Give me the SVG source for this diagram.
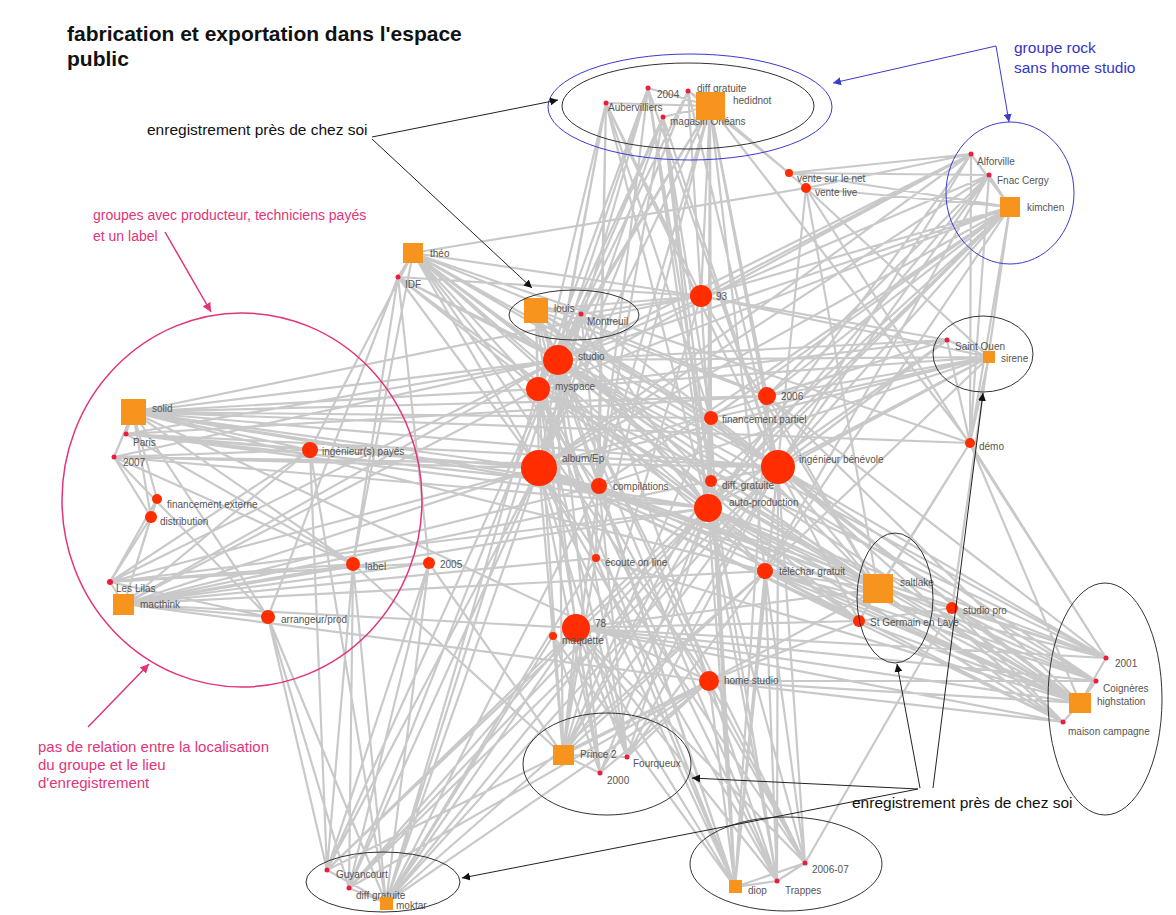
<svg xmlns="http://www.w3.org/2000/svg" width="1176" height="915" viewBox="0 0 1176 915">
<style>
.e{fill:none;stroke:#c9c9c9;stroke-width:2.2;stroke-linecap:round}
.sq{fill:#f7941d}
.n{fill:#ff2d00}
.d{fill:#ee1c3c}
.l{font-family:"Liberation Sans",Arial,sans-serif;font-size:10px;fill:#555}
.a{font-family:"Liberation Sans",Arial,sans-serif;font-size:15.5px;fill:#111}
.p{font-family:"Liberation Sans",Arial,sans-serif;font-size:15px;fill:#e2347a}
.p2{font-family:"Liberation Sans",Arial,sans-serif;font-size:14px;fill:#e2347a}
.b{font-family:"Liberation Sans",Arial,sans-serif;font-size:15.5px;fill:#3434c8}
.t{font-family:"Liberation Sans",Arial,sans-serif;font-size:21px;font-weight:bold;fill:#111}
.ek{fill:none;stroke:#333;stroke-width:1}
.eb{fill:none;stroke:#3a3acc;stroke-width:1}
.ep{fill:none;stroke:#e2347a;stroke-width:1.5}
.ak{fill:none;stroke:#222;stroke-width:1}
.ab{fill:none;stroke:#3a3acc;stroke-width:1}
.ap{fill:none;stroke:#e2347a;stroke-width:1.5}
</style>
<defs>
<marker id="mk" viewBox="0 0 10 10" refX="10" refY="5" markerWidth="8" markerHeight="8" orient="auto" markerUnits="userSpaceOnUse"><path d="M0,0L10,5L0,10z" fill="#111"/></marker>
<marker id="mb" viewBox="0 0 10 10" refX="10" refY="5" markerWidth="8" markerHeight="8" orient="auto" markerUnits="userSpaceOnUse"><path d="M0,0L10,5L0,10z" fill="#3a3acc"/></marker>
<marker id="mp" viewBox="0 0 10 10" refX="10" refY="5" markerWidth="9" markerHeight="9" orient="auto" markerUnits="userSpaceOnUse"><path d="M0,0L10,5L0,10z" fill="#e2347a"/></marker>
</defs>
<rect width="1176" height="915" fill="#fff"/>

<g id="connectors">
<path class="e" d="M710 106 558 360M710 106 538 389M710 106 701 296M710 106 539 468M710 106 778 467M710 106 708 508M710 106 599 486M710 106 711 481M710 106 789 173M710 106 806 188M710 106 711 418M710 106 970 443M710 106 596 558M710 106 767 396M710 106 765 571M606 103 558 360M606 103 538 389M606 103 539 468M606 103 778 467M606 103 708 508M606 103 701 296M606 103 599 486M606 103 596 558M606 103 711 418M648 88 558 360M648 88 539 468M648 88 778 467M648 88 708 508M648 88 711 481M648 88 538 389M648 88 599 486M688 91 558 360M688 91 539 468M688 91 789 173M688 91 701 296M688 91 778 467M663 117 558 360M663 117 538 389M663 117 539 468M663 117 778 467M663 117 708 508M663 117 711 418M663 117 599 486M663 117 711 481M710 106 606 103M710 106 648 88M710 106 688 91M710 106 663 117"/>
<path class="e" d="M1010 207 558 360M1010 207 539 468M1010 207 778 467M1010 207 538 389M1010 207 789 173M1010 207 806 188M1010 207 970 443M1010 207 708 508M1010 207 711 418M1010 207 767 396M1010 207 765 571M1010 207 952 608M1010 207 701 296M1010 207 599 486M1010 207 711 481M1010 207 576 628M971 154 558 360M971 154 539 468M971 154 778 467M971 154 789 173M971 154 806 188M971 154 538 389M971 154 701 296M971 154 708 508M971 154 970 443M989 175 558 360M989 175 539 468M989 175 778 467M989 175 708 508M989 175 789 173M989 175 970 443M989 175 767 396M989 175 765 571M1010 207 971 154M1010 207 989 175"/>
<path class="e" d="M413 253 558 360M413 253 539 468M413 253 538 389M413 253 778 467M413 253 701 296M413 253 708 508M413 253 599 486M413 253 709 681M413 253 767 396M413 253 711 418M413 253 711 481M413 253 353 564M413 253 310 450M413 253 806 188M413 253 970 443M413 253 765 571M398 277 558 360M398 277 539 468M398 277 538 389M398 277 778 467M398 277 353 564M398 277 268 617M398 277 701 296M398 277 708 508M398 277 429 563M413 253 398 277"/>
<path class="e" d="M536 310 558 360M536 310 538 389M536 310 539 468M536 310 701 296M536 310 778 467M536 310 708 508M536 310 709 681M536 310 767 396M536 310 711 418M536 310 711 481M536 310 765 571M536 310 599 486M536 310 596 558M536 310 576 628M581 314 558 360M581 314 539 468M581 314 778 467M581 314 708 508M581 314 701 296M581 314 709 681M581 314 538 389M581 314 599 486M536 310 581 314"/>
<path class="e" d="M133 412 310 450M133 412 157 499M133 412 151 517M133 412 353 564M133 412 268 617M133 412 539 468M133 412 558 360M133 412 538 389M133 412 778 467M133 412 708 508M133 412 599 486M133 412 767 396M133 412 711 418M133 412 765 571M133 412 701 296M133 412 970 443M133 412 709 681M126 434 310 450M126 434 539 468M126 434 558 360M126 434 778 467M126 434 353 564M126 434 708 508M126 434 767 396M126 434 599 486M114 457 310 450M114 457 539 468M114 457 151 517M114 457 268 617M114 457 353 564M114 457 778 467M114 457 708 508M114 457 558 360M133 412 126 434M133 412 114 457"/>
<path class="e" d="M124 604 310 450M124 604 157 499M124 604 151 517M124 604 353 564M124 604 268 617M124 604 539 468M124 604 558 360M124 604 538 389M124 604 429 563M124 604 599 486M124 604 708 508M124 604 778 467M124 604 576 628M124 604 596 558M124 604 709 681M124 604 765 571M110 582 310 450M110 582 157 499M110 582 151 517M110 582 353 564M110 582 539 468M110 582 558 360M110 582 268 617M110 582 708 508M110 582 429 563M124 604 110 582"/>
<path class="e" d="M878 589 539 468M878 589 778 467M878 589 708 508M878 589 765 571M878 589 709 681M878 589 576 628M878 589 952 608M878 589 558 360M878 589 538 389M878 589 970 443M878 589 767 396M878 589 711 418M878 589 711 481M878 589 701 296M878 589 599 486M878 589 806 188M859 621 539 468M859 621 778 467M859 621 708 508M859 621 576 628M859 621 709 681M859 621 558 360M859 621 765 571M859 621 538 389M859 621 952 608M859 621 970 443M878 589 859 621"/>
<path class="e" d="M989 357 701 296M989 357 539 468M989 357 778 467M989 357 708 508M989 357 970 443M989 357 558 360M989 357 538 389M989 357 765 571M989 357 806 188M989 357 767 396M989 357 711 418M989 357 599 486M947 340 701 296M947 340 539 468M947 340 778 467M947 340 558 360M947 340 708 508M947 340 538 389M947 340 970 443M947 340 767 396M989 357 947 340"/>
<path class="e" d="M1080 703 539 468M1080 703 778 467M1080 703 708 508M1080 703 709 681M1080 703 576 628M1080 703 765 571M1080 703 952 608M1080 703 558 360M1080 703 538 389M1080 703 711 481M1080 703 711 418M1080 703 767 396M1080 703 596 558M1080 703 599 486M1080 703 859 621M1080 703 970 443M1106 658 539 468M1106 658 778 467M1106 658 708 508M1106 658 558 360M1106 658 576 628M1106 658 765 571M1106 658 538 389M1106 658 767 396M1106 658 970 443M1106 658 806 188M1106 658 952 608M1096 681 539 468M1096 681 778 467M1096 681 708 508M1096 681 709 681M1096 681 576 628M1096 681 952 608M1096 681 558 360M1096 681 765 571M1063 722 539 468M1063 722 778 467M1063 722 708 508M1063 722 709 681M1063 722 576 628M1063 722 765 571M1063 722 952 608M1063 722 558 360M1080 703 1106 658M1080 703 1096 681M1080 703 1063 722"/>
<path class="e" d="M563 755 576 628M563 755 539 468M563 755 708 508M563 755 709 681M563 755 778 467M563 755 558 360M563 755 538 389M563 755 765 571M563 755 599 486M563 755 553 636M563 755 596 558M563 755 353 564M563 755 429 563M563 755 711 481M563 755 711 418M563 755 701 296M627 757 576 628M627 757 539 468M627 757 708 508M627 757 709 681M627 757 778 467M627 757 558 360M627 757 765 571M627 757 538 389M627 757 599 486M600 773 576 628M600 773 539 468M600 773 708 508M600 773 778 467M600 773 558 360M600 773 553 636M600 773 709 681M600 773 538 389M563 755 627 757M563 755 600 773"/>
<path class="e" d="M735 887 576 628M735 887 539 468M735 887 708 508M735 887 709 681M735 887 778 467M735 887 558 360M735 887 538 389M735 887 765 571M735 887 711 481M735 887 711 418M735 887 767 396M735 887 599 486M735 887 553 636M735 887 806 188M735 887 701 296M735 887 596 558M805 863 576 628M805 863 539 468M805 863 708 508M805 863 709 681M805 863 778 467M805 863 558 360M805 863 765 571M805 863 952 608M805 863 538 389M777 881 576 628M777 881 539 468M777 881 708 508M777 881 709 681M777 881 778 467M777 881 538 389M777 881 765 571M777 881 558 360M777 881 711 481M735 887 805 863M735 887 777 881M777 881 805 863"/>
<path class="e" d="M386 903 576 628M386 903 539 468M386 903 708 508M386 903 709 681M386 903 778 467M386 903 558 360M386 903 538 389M386 903 353 564M386 903 268 617M386 903 310 450M386 903 429 563M386 903 553 636M386 903 596 558M386 903 599 486M386 903 765 571M327 870 576 628M327 870 539 468M327 870 268 617M327 870 353 564M327 870 310 450M327 870 558 360M327 870 708 508M327 870 709 681M327 870 429 563M349 888 539 468M349 888 708 508M349 888 576 628M349 888 709 681M349 888 778 467M349 888 353 564M349 888 429 563M349 888 558 360M349 888 268 617M386 903 327 870M386 903 349 888"/>
</g>

<g id="n-studio"><circle class="n" cx="558" cy="360" r="15"/><text class="l" x="578" y="360">studio</text></g>
<g id="n-myspace"><circle class="n" cx="538" cy="389" r="12"/><text class="l" x="555" y="390">myspace</text></g>
<g id="n-93"><circle class="n" cx="701" cy="296" r="11"/><text class="l" x="716" y="300">93</text></g>
<g id="n-2006"><circle class="n" cx="767" cy="396" r="9"/><text class="l" x="781" y="400">2006</text></g>
<g id="n-financement-partiel"><circle class="n" cx="711" cy="418" r="7"/><text class="l" x="722" y="423">financement partiel</text></g>
<g id="n-ingenieur-benevole"><circle class="n" cx="778" cy="467" r="17"/><text class="l" x="799" y="463">ingénieur bénévole</text></g>
<g id="n-demo"><circle class="n" cx="970" cy="443" r="5"/><text class="l" x="979" y="450">démo</text></g>
<g id="n-album"><circle class="n" cx="539" cy="468" r="18"/><text class="l" x="562" y="462">album/Ep</text></g>
<g id="n-compilations"><circle class="n" cx="599" cy="486" r="8"/><text class="l" x="613" y="490">compilations</text></g>
<g id="n-diff-gratuite-c"><circle class="n" cx="711" cy="481" r="6"/><text class="l" x="722" y="489">diff. gratuite</text></g>
<g id="n-auto-production"><circle class="n" cx="708" cy="508" r="14"/><text class="l" x="729" y="506">auto-production</text></g>
<g id="n-ecoute"><circle class="n" cx="596" cy="558" r="4"/><text class="l" x="605" y="566">écoute on line</text></g>
<g id="n-telechar"><circle class="n" cx="765" cy="571" r="8"/><text class="l" x="779" y="575">téléchar gratuit</text></g>
<g id="n-ingenieurs-payes"><circle class="n" cx="310" cy="450" r="8"/><text class="l" x="322" y="455">ingénieur(s) payés</text></g>
<g id="n-financement-externe"><circle class="n" cx="157" cy="499" r="5"/><text class="l" x="167" y="508">financement externe</text></g>
<g id="n-distribution"><circle class="n" cx="151" cy="517" r="6"/><text class="l" x="160" y="525">distribution</text></g>
<g id="n-label"><circle class="n" cx="353" cy="564" r="7"/><text class="l" x="365" y="570">label</text></g>
<g id="n-arrangeur"><circle class="n" cx="268" cy="617" r="7"/><text class="l" x="281" y="623">arrangeur/prod</text></g>
<g id="n-2005"><circle class="n" cx="429" cy="563" r="6"/><text class="l" x="440" y="568">2005</text></g>
<g id="n-78"><circle class="n" cx="576" cy="628" r="14"/><text class="l" x="595" y="627">78</text></g>
<g id="n-maquette"><circle class="n" cx="553" cy="636" r="4"/><text class="l" x="562" y="644">maquette</text></g>
<g id="n-home-studio"><circle class="n" cx="709" cy="681" r="10"/><text class="l" x="724" y="684">home studio</text></g>
<g id="n-studio-pro"><circle class="n" cx="952" cy="608" r="6"/><text class="l" x="963" y="614">studio pro</text></g>
<g id="n-st-germain"><circle class="n" cx="859" cy="621" r="6"/><text class="l" x="870" y="626">St Germain en Laye</text></g>
<g id="n-vente-net"><circle class="n" cx="789" cy="173" r="4"/><text class="l" x="797" y="182">vente sur le net</text></g>
<g id="n-vente-live"><circle class="n" cx="806" cy="188" r="5"/><text class="l" x="815" y="196">vente live</text></g>

<g id="n-aubervilliers"><circle class="d" cx="606" cy="103" r="2.5"/><text class="l" x="608" y="111">Aubervilliers</text></g>
<g id="n-2004"><circle class="d" cx="648" cy="88" r="2.5"/><text class="l" x="657" y="98">2004</text></g>
<g id="n-diff-gratuite-h"><circle class="d" cx="688" cy="91" r="2.5"/><text class="l" x="697" y="92">diff gratuite</text></g>
<g id="n-magasin"><circle class="d" cx="663" cy="117" r="2.5"/><text class="l" x="670" y="125">magasin Orléans</text></g>
<g id="n-alforville"><circle class="d" cx="971" cy="154" r="2.5"/><text class="l" x="977" y="165">Alforville</text></g>
<g id="n-fnac"><circle class="d" cx="989" cy="175" r="2.5"/><text class="l" x="997" y="184">Fnac Cergy</text></g>
<g id="n-idf"><circle class="d" cx="398" cy="277" r="2.5"/><text class="l" x="405" y="288">IDF</text></g>
<g id="n-montreuil"><circle class="d" cx="581" cy="314" r="2.5"/><text class="l" x="587" y="325">Montreuil</text></g>
<g id="n-saint-ouen"><circle class="d" cx="947" cy="340" r="2.5"/><text class="l" x="955" y="350">Saint Ouen</text></g>
<g id="n-paris"><circle class="d" cx="126" cy="434" r="2.5"/><text class="l" x="133" y="446">Paris</text></g>
<g id="n-2007"><circle class="d" cx="114" cy="457" r="2.5"/><text class="l" x="123" y="466">2007</text></g>
<g id="n-les-lilas"><circle class="d" cx="110" cy="582" r="3"/><text class="l" x="116" y="592">Les Lilas</text></g>
<g id="n-2001"><circle class="d" cx="1106" cy="658" r="2.5"/><text class="l" x="1115" y="667">2001</text></g>
<g id="n-coigneres"><circle class="d" cx="1096" cy="681" r="2.5"/><text class="l" x="1103" y="692">Coignères</text></g>
<g id="n-maison"><circle class="d" cx="1063" cy="722" r="2.5"/><text class="l" x="1068" y="735">maison campagne</text></g>
<g id="n-fourqueux"><circle class="d" cx="627" cy="757" r="2.5"/><text class="l" x="633" y="767">Fourqueux</text></g>
<g id="n-2000"><circle class="d" cx="600" cy="773" r="2.5"/><text class="l" x="607" y="784">2000</text></g>
<g id="n-guyancourt"><circle class="d" cx="327" cy="870" r="2.5"/><text class="l" x="336" y="878">Guyancourt</text></g>
<g id="n-diff-gratuite-m"><circle class="d" cx="349" cy="888" r="2.5"/><text class="l" x="356" y="899">diff gratuite</text></g>
<g id="n-2006-07"><circle class="d" cx="805" cy="863" r="2.5"/><text class="l" x="812" y="873">2006-07</text></g>
<g id="n-trappes"><circle class="d" cx="777" cy="881" r="2.5"/><text class="l" x="785" y="894">Trappes</text></g>

<g id="g-hedidnot"><rect class="sq" x="696" y="92" width="29" height="28"/><text class="l" x="733" y="104">hedidnot</text></g>
<g id="g-kimchen"><rect class="sq" x="1000" y="197" width="20" height="20"/><text class="l" x="1027" y="211">kimchen</text></g>
<g id="g-theo"><rect class="sq" x="403" y="243" width="20" height="20"/><text class="l" x="430" y="257">théo</text></g>
<g id="g-louis"><rect class="sq" x="524" y="298" width="24" height="25"/><text class="l" x="554" y="312">louis</text></g>
<g id="g-solid"><rect class="sq" x="121" y="399" width="25" height="26"/><text class="l" x="152" y="412">solid</text></g>
<g id="g-macthink"><rect class="sq" x="113" y="594" width="21" height="21"/><text class="l" x="140" y="608">macthink</text></g>
<g id="g-saltlake"><rect class="sq" x="863" y="574" width="30" height="29"/><text class="l" x="900" y="586">saltlake</text></g>
<g id="g-sirene"><rect class="sq" x="983" y="351" width="12" height="12"/><text class="l" x="1001" y="362">sirene</text></g>
<g id="g-highstation"><rect class="sq" x="1069" y="693" width="22" height="20"/><text class="l" x="1097" y="705">highstation</text></g>
<g id="g-prince2"><rect class="sq" x="553" y="745" width="21" height="20"/><text class="l" x="580" y="758">Prince 2</text></g>
<g id="g-diop"><rect class="sq" x="729" y="880" width="13" height="13"/><text class="l" x="748" y="894">diop</text></g>
<g id="g-moktar"><rect class="sq" x="380" y="897" width="13" height="13"/><text class="l" x="396" y="909">moktar</text></g>

<g id="annotations">
<ellipse class="eb" cx="690" cy="107" rx="142" ry="53"/>
<ellipse class="ek" cx="688" cy="106" rx="126" ry="43"/>
<ellipse class="eb" cx="1010" cy="193" rx="64" ry="71"/>
<ellipse class="ek" cx="574" cy="315" rx="65" ry="25"/>
<ellipse class="ek" cx="983" cy="354" rx="50" ry="38"/>
<ellipse class="ek" cx="895" cy="598" rx="38" ry="65"/>
<ellipse class="ek" cx="1105" cy="699" rx="57" ry="116"/>
<ellipse class="ek" cx="607" cy="764" rx="84" ry="51"/>
<ellipse class="ek" cx="786" cy="864" rx="96" ry="47"/>
<ellipse class="ek" cx="383" cy="882" rx="77" ry="30"/>
<ellipse class="ep" cx="242" cy="500" rx="180" ry="187"/>

<line class="ak" x1="372" y1="137" x2="558" y2="100" marker-end="url(#mk)"/>
<line class="ak" x1="372" y1="139" x2="532" y2="288" marker-end="url(#mk)"/>
<line class="ak" x1="918" y1="789" x2="692" y2="778" marker-end="url(#mk)"/>
<line class="ak" x1="918" y1="789" x2="462" y2="878" marker-end="url(#mk)"/>
<line class="ak" x1="920" y1="788" x2="897" y2="664" marker-end="url(#mk)"/>
<line class="ak" x1="933" y1="788" x2="983" y2="393" marker-end="url(#mk)"/>
<line class="ab" x1="996" y1="46" x2="833" y2="83" marker-end="url(#mb)"/>
<line class="ab" x1="996" y1="46" x2="1009" y2="122" marker-end="url(#mb)"/>
<line class="ap" x1="165" y1="232" x2="211" y2="312" marker-end="url(#mp)"/>
<line class="ap" x1="88" y1="727" x2="149" y2="664" marker-end="url(#mp)"/>

<text class="t" x="67" y="41">fabrication et exportation dans l'espace</text>
<text class="t" x="67" y="66">public</text>
<text class="a" x="147" y="135">enregistrement près de chez soi</text>
<text class="a" x="852" y="808">enregistrement près de chez soi</text>
<text class="b" x="1014" y="53">groupe rock</text>
<text class="b" x="1014" y="73">sans home studio</text>
<text class="p2" x="93" y="220">groupes avec producteur, techniciens payés</text>
<text class="p2" x="93" y="241">et un label</text>
<text class="p" x="38" y="752">pas de relation entre la localisation</text>
<text class="p" x="38" y="770">du groupe et le lieu</text>
<text class="p" x="38" y="788">d'enregistrement</text>
</g>
</svg>
